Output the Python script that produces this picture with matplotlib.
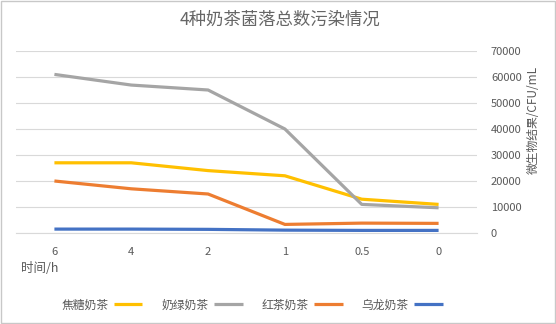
import matplotlib.pyplot as plt
from matplotlib.patches import Rectangle

plt.rcParams['font.family'] = ['Noto Sans CJK SC', 'DejaVu Sans']

# 时间点 (h) 与四种奶茶的菌落总数
时间 = ['0', '0.5', '1', '2', '4', '6']
乌龙奶茶 = [1000, 1000, 1100, 1400, 1500, 1500]
红茶奶茶 = [3700, 3800, 3300, 15000, 17000, 20000]
奶绿奶茶 = [9700, 11000, 40000, 55000, 56900, 61000]
焦糖奶茶 = [11000, 13000, 22000, 24000, 27000, 27000]

系列 = [('焦糖奶茶', 焦糖奶茶, '#FFC000'),
        ('奶绿奶茶', 奶绿奶茶, '#A5A5A5'),
        ('红茶奶茶', 红茶奶茶, '#ED7D31'),
        ('乌龙奶茶', 乌龙奶茶, '#4472C4')]

字色 = '#595959'
线色 = '#D9D9D9'

fig = plt.figure(figsize=(5.56, 3.24), dpi=100)
ax = fig.add_axes([16 / 556, 1 - 233 / 324, 461 / 556, 182 / 324])

x = list(range(len(时间)))
for 名, 值, 色 in 系列:
    ax.plot(x, 值, color=色, lw=2.3, label=名, solid_capstyle='butt', zorder=3)

ax.set_xlim(5.5, -0.5)
ax.set_ylim(0, 70000)
ax.set_xticks(x)
ax.set_xticklabels(时间)
ax.set_yticks(range(0, 70001, 10000))
ax.yaxis.tick_right()
ax.tick_params(length=0, labelsize=8, labelcolor=字色)
ax.tick_params(axis='x', pad=10)
ax.tick_params(axis='y', pad=10)
ax.grid(axis='y', color=线色, lw=0.8)
ax.set_axisbelow(True)
for s in ['top', 'left', 'right']:
    ax.spines[s].set_visible(False)
ax.spines['bottom'].set_color(线色)
ax.spines['bottom'].set_linewidth(0.8)

fig.text(280 / 556, 1 - 20 / 324, '4种奶茶菌落总数污染情况', ha='center', va='center',
         fontsize=12.5, color='#666666')
fig.text(533 / 556, 1 - 120 / 324, '微生物结果/CFU/mL', ha='center', va='center',
         rotation=90, fontsize=8.5, color=字色)
fig.text(40 / 556, 1 - 268 / 324, '时间/h', ha='center', va='center',
         fontsize=9, color=字色)

fig.legend(loc='center', bbox_to_anchor=(252 / 556, 1 - 305 / 324), ncol=4,
           frameon=False, markerfirst=False, fontsize=8.5, labelcolor=字色,
           handlelength=2.4, handletextpad=0.5, columnspacing=1.6)

fig.patches.append(Rectangle((0.001, 0.002), 0.997, 0.995, transform=fig.transFigure,
                             fill=False, edgecolor='#C8C8C8', lw=1))

fig.savefig('out.png', dpi=100)
